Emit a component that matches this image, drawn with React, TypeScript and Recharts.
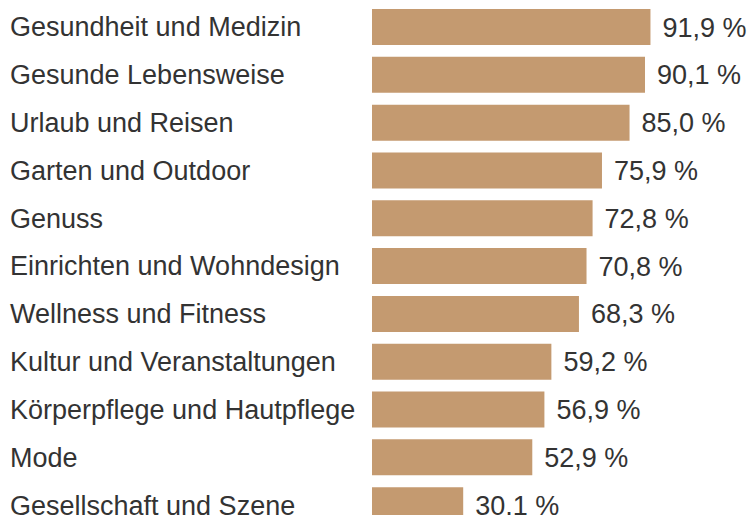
import { BarChart, Bar, XAxis, YAxis, LabelList } from "recharts";

const categories = [
  "Gesundheit und Medizin",
  "Gesunde Lebensweise",
  "Urlaub und Reisen",
  "Garten und Outdoor",
  "Genuss",
  "Einrichten und Wohndesign",
  "Wellness und Fitness",
  "Kultur und Veranstaltungen",
  "Körperpflege und Hautpflege",
  "Mode",
  "Gesellschaft und Szene",
];
const shares = [91.9, 90.1, 85.0, 75.9, 72.8, 70.8, 68.3, 59.2, 56.9, 52.9, 30.1];

const data = categories.map((name, i) => ({ name, value: shares[i] }));

const FONT = "'Liberation Sans', Arial, sans-serif";

const CategoryTick = ({ y, payload }: any) => (
  <text
    x={10}
    y={y}
    dy="0.35em"
    textAnchor="start"
    fontFamily={FONT}
    fontSize={27}
    fill="#333333"
  >
    {payload.value}
  </text>
);

const formatPct = (v: any) => Number(v).toFixed(1).replace(".", ",") + " %";

export default function App() {
  return (
    <div style={{ position: "absolute", left: 0, top: 0, width: 753, height: 515, overflow: "hidden", background: "#fff" }}>
      <BarChart
        layout="vertical"
        width={753}
        height={530}
        data={data}
        margin={{ top: 3, right: 78, bottom: 1, left: 0 }}
        barSize={36}
      >
        <XAxis type="number" domain={[0, 100]} hide />
        <YAxis
          type="category"
          dataKey="name"
          width={372}
          axisLine={false}
          tickLine={false}
          tick={<CategoryTick />}
          interval={0}
        />
        <Bar dataKey="value" fill="#C49A70" isAnimationActive={false}>
          <LabelList
            dataKey="value"
            position="right"
            offset={12}
            formatter={formatPct}
            style={{ fontFamily: FONT, fontSize: 27, fill: "#333333" }}
          />
        </Bar>
      </BarChart>
    </div>
  );
}
